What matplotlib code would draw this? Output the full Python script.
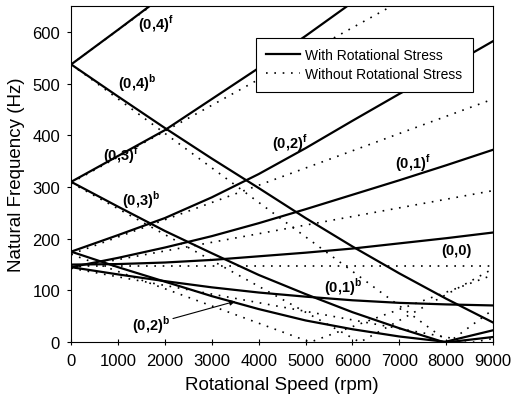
import matplotlib.pyplot as plt

plt.rcParams['font.family'] = ['Liberation Sans', 'DejaVu Sans']
plt.rcParams['mathtext.fontset'] = 'custom'
plt.rcParams['mathtext.bf'] = 'Liberation Sans:bold'
plt.rcParams['mathtext.rm'] = 'Liberation Sans'

rpm = [0, 1000, 2000, 3000, 4000, 5000, 6000, 7000, 8000, 9000]

# with rotational stress (Hz)
f00 = [150, 151, 154, 159, 166, 173, 181, 191, 201, 212]
f01_f = [145, 163, 183, 205, 230, 257, 285, 313, 342, 372]
f01_b = [145, 131, 118, 106, 96, 88, 81, 76, 73, 71]
f02_f = [175, 207, 240, 280, 325, 375, 428, 480, 530, 582]
rpm02_b = [0, 1000, 2000, 3000, 4000, 5000, 6000, 7000, 8050, 9000]
f02_b = [175, 145, 117, 89, 64, 42, 25, 11, 0, 10]
rpm03_f = [0, 1000, 2000, 3000, 4000, 5000, 6000]
f03_f = [310, 360, 410, 470, 530, 592, 657]
rpm03_b = [0, 1000, 2000, 3000, 4000, 5000, 6000, 7000, 7950, 9000]
f03_b = [310, 262, 215, 172, 130, 93, 58, 27, 0, 23]
rpm04_f = [0, 1000, 2000]
f04_f = [537, 604, 672]
f04_b = [537, 475, 414, 355, 298, 240, 185, 133, 84, 38]

# without rotational stress (straight lines, end points read off)
rpm_s00, s00 = [0, 9000], [148, 148]
rpm_s01f, s01f = [0, 9000], [143, 293]
rpm_s01b, s01b = [0, 8580, 9000], [143, 0, 7]
rpm_s02f, s02f = [0, 9000], [170, 470]
rpm_s02b, s02b = [0, 5100, 9000], [170, 0, 130]
rpm_s03f, s03f = [0, 7000], [308, 658]
rpm_s03b, s03b = [0, 6160, 9000], [308, 0, 142]
rpm_s04f, s04f = [0, 2000], [537, 670]
rpm_s04b, s04b = [0, 8055, 9000], [537, 0, 63]

solid = [(rpm, f00), (rpm, f01_f), (rpm, f01_b), (rpm, f02_f), (rpm02_b, f02_b),
         (rpm03_f, f03_f), (rpm03_b, f03_b), (rpm04_f, f04_f), (rpm, f04_b)]
dotted = [(rpm_s00, s00), (rpm_s01f, s01f), (rpm_s01b, s01b), (rpm_s02f, s02f),
          (rpm_s02b, s02b), (rpm_s03f, s03f), (rpm_s03b, s03b), (rpm_s04f, s04f),
          (rpm_s04b, s04b)]

fig = plt.figure(figsize=(5.12, 4.10), dpi=100)
ax = fig.add_axes([0.139, 0.163, 0.824, 0.820])

for i, (x, y) in enumerate(dotted):
    ax.plot(x, y, color='black', lw=1.2, linestyle=(0, (1, 4)),
            label='Without Rotational Stress' if i == 0 else None)
for i, (x, y) in enumerate(solid):
    ax.plot(x, y, color='black', lw=1.6,
            label='With Rotational Stress' if i == 0 else None)

ax.set_xlim(0, 9000)
ax.set_ylim(0, 650)
ax.set_xticks(range(0, 9001, 1000))
ax.set_yticks(range(0, 601, 100))
ax.tick_params(axis='x', direction='inout', length=5, labelsize=12, pad=5)
ax.tick_params(axis='y', direction='out', length=3, labelsize=12, pad=5)
ax.set_xlabel('Rotational Speed (rpm)', fontsize=13.5, labelpad=6)
ax.set_ylabel('Natural Frequency (Hz)', fontsize=13.5, labelpad=5)

labels = [
    (r'(0,4)$^{\mathbf{f}}$', 1430, 617),
    (r'(0,4)$^{\mathbf{b}}$', 1000, 503),
    (r'(0,3)$^{\mathbf{f}}$', 680, 363),
    (r'(0,3)$^{\mathbf{b}}$', 1090, 276),
    (r'(0,2)$^{\mathbf{f}}$', 4290, 386),
    (r'(0,1)$^{\mathbf{f}}$', 6900, 348),
    ('(0,0)', 7900, 179),
    (r'(0,1)$^{\mathbf{b}}$', 5400, 108),
]
for txt, x, y in labels:
    ax.text(x, y, txt, fontsize=10.5, fontweight='bold', ha='left', va='center')

ax.annotate(r'(0,2)$^{\mathbf{b}}$', xy=(3500, 79), xytext=(1300, 34),
            fontsize=10.5, fontweight='bold', ha='left', va='center',
            arrowprops=dict(arrowstyle='-|>', color='black', lw=0.8,
                            mutation_scale=8, shrinkA=0, shrinkB=0))

h, l = ax.get_legend_handles_labels()
leg = ax.legend(h[::-1], l[::-1], loc='upper right', bbox_to_anchor=(0.952, 0.905),
                borderaxespad=0, fancybox=False, edgecolor='black', framealpha=1,
                fontsize=10, handlelength=2.4, handletextpad=0.4,
                labelspacing=0.35, borderpad=0.75)
leg.get_frame().set_linewidth(0.8)

fig.savefig('out.png', dpi=100)
